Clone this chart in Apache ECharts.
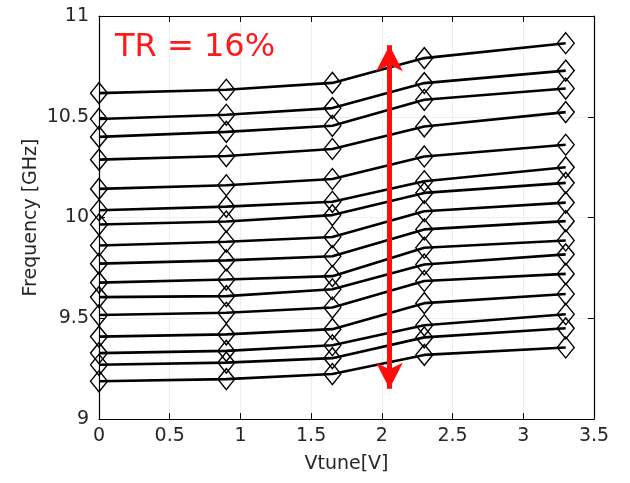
<!DOCTYPE html>
<html>
<head>
<meta charset="utf-8">
<script src="https://cdn.jsdelivr.net/npm/echarts@6/dist/echarts.min.js"></script>
<style>
  html, body { margin: 0; padding: 0; background: #fff; }
  #chart { width: 630px; height: 483px; }
</style>
</head>
<body>
<div id="chart"></div>
<script>
// tuning voltage points
const vtune = [0, 0.9, 1.65, 2.3, 3.3];

// frequency of each curve (top to bottom) at each vtune point
const fAt0   = [10.617, 10.489, 10.400, 10.287, 10.142, 10.036, 9.965, 9.861, 9.771, 9.677, 9.605, 9.516, 9.409, 9.327, 9.269, 9.187];
const fAt09  = [10.634, 10.510, 10.425, 10.305, 10.160, 10.054, 9.980, 9.880, 9.787, 9.692, 9.610, 9.527, 9.420, 9.338, 9.280, 9.198];
const fAt165 = [10.668, 10.543, 10.455, 10.340, 10.191, 10.078, 10.012, 9.903, 9.808, 9.709, 9.644, 9.553, 9.446, 9.366, 9.302, 9.223];
const fAt23  = [10.791, 10.667, 10.584, 10.452, 10.303, 10.180, 10.122, 10.031, 9.941, 9.850, 9.767, 9.685, 9.575, 9.465, 9.405, 9.318];
const fAt33  = [10.865, 10.729, 10.640, 10.523, 10.361, 10.249, 10.172, 10.074, 9.982, 9.886, 9.817, 9.720, 9.620, 9.520, 9.450, 9.355];

const xTicks = [0, 0.5, 1, 1.5, 2, 2.5, 3, 3.5];
const yTicks = [9, 9.5, 10, 10.5, 11];

// tuning-range arrow (vtune, f low, f high)
const arrowX = 2.054;
const arrowF = [9.15, 10.855];

const columns = [fAt0, fAt09, fAt165, fAt23, fAt33];

var myChart = echarts.init(document.getElementById('chart'));

const font = 'DejaVu Sans';
const axisColor = '#262626';

const curves = fAt0.map((_, i) => ({
  type: 'line',
  data: vtune.map((v, j) => [v, columns[j][i]]),
  symbol: 'diamond',
  symbolSize: [17, 21],
  showSymbol: true,
  lineStyle: {color: '#000', width: 2.6},
  itemStyle: {color: 'transparent', borderColor: '#000', borderWidth: 1.4},
  emphasis: {disabled: true},
  animation: false,
  z: 3
}));

curves.push({
  type: 'line',
  data: [],
  animation: false,
  markLine: {
    silent: true,
    symbol: ['arrow', 'arrow'],
    symbolSize: [20, 26],
    label: {show: false},
    lineStyle: {color: '#ff0d0d', width: 5, type: 'solid'},
    data: [[{coord: [arrowX, arrowF[0]]}, {coord: [arrowX, arrowF[1]]}]],
    animation: false
  },
  z: 5
});

const baseX = {
  type: 'value',
  min: 0,
  max: 3.5,
  interval: 0.5,
  axisLine: {show: true, onZero: false, lineStyle: {color: '#000', width: 1.2}},
  axisTick: {show: true, inside: true, length: 6, lineStyle: {color: '#000'}},
  splitLine: {show: false}
};
const baseY = {
  type: 'value',
  min: 9,
  max: 11,
  interval: 0.5,
  axisLine: {show: true, onZero: false, lineStyle: {color: '#000', width: 1.2}},
  axisTick: {show: true, inside: true, length: 6, lineStyle: {color: '#000'}},
  splitLine: {show: false}
};

myChart.setOption({
  animation: false,
  textStyle: {fontFamily: font},
  title: {
    text: 'TR = 16%',
    left: 110,
    top: 27,
    textStyle: {color: '#ff1a1a', fontSize: 32, fontWeight: 'normal', fontFamily: font}
  },
  legend: {show: false},
  tooltip: {show: false},
  grid: {left: 99, right: 36, top: 16, bottom: 64},
  xAxis: [
    Object.assign({}, baseX, {
      position: 'bottom',
      name: 'Vtune[V]',
      nameLocation: 'middle',
      nameGap: 36,
      nameMoveOverlap: false,
      nameTextStyle: {color: axisColor, fontSize: 19, fontFamily: font},
      axisLabel: {
        color: axisColor, fontSize: 19, margin: 8,
        formatter: (v) => xTicks.includes(v) ? String(v) : ''
      },
      splitLine: {show: true, lineStyle: {color: '#eeeeee', width: 1}}
    }),
    Object.assign({}, baseX, {position: 'top', axisLabel: {show: false}})
  ],
  yAxis: [
    Object.assign({}, baseY, {
      position: 'left',
      name: 'Frequency [GHz]',
      nameLocation: 'middle',
      nameGap: 58,
      nameMoveOverlap: false,
      nameTextStyle: {color: axisColor, fontSize: 19, fontFamily: font},
      axisLabel: {
        color: axisColor, fontSize: 19, margin: 10,
        formatter: (v) => yTicks.includes(v) ? String(v) : ''
      },
      splitLine: {show: true, lineStyle: {color: '#eeeeee', width: 1}}
    }),
    Object.assign({}, baseY, {position: 'right', axisLabel: {show: false}})
  ],
  series: curves
});
</script>
</body>
</html>
